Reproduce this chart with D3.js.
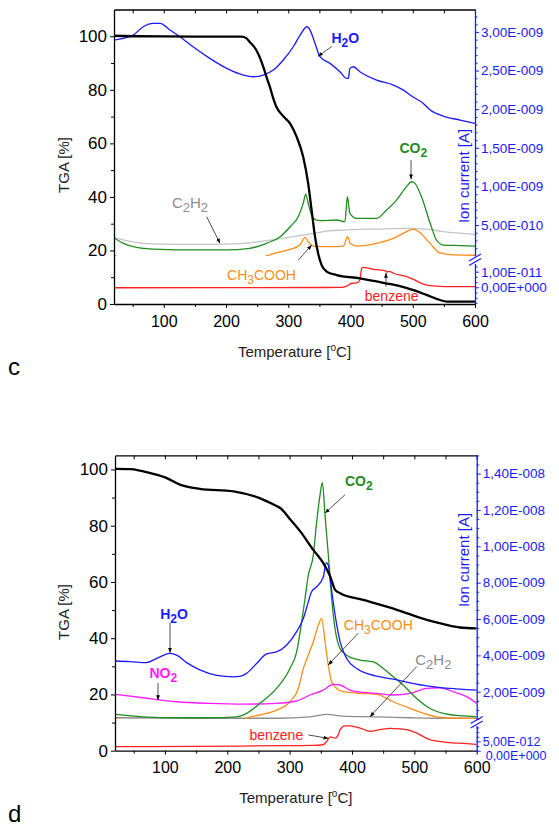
<!DOCTYPE html>
<html><head><meta charset="utf-8">
<script src="https://cdn.jsdelivr.net/npm/d3@7"></script>
<style>
body{margin:0;background:#fff}
svg{display:block}
text{font-family:"Liberation Sans",Arial,sans-serif}
</style>
</head><body>
<svg id="chart" width="559" height="830"></svg>
<script>
// ---------------- DATA ----------------
const tempTicks = [100, 200, 300, 400, 500, 600];
const tempMinor = [50, 150, 250, 350, 450, 550];
const tgaTicks = [0, 20, 40, 60, 80, 100];
const tgaMinor = [10, 30, 50, 70, 90];

// Panel c  — TGA in %, ion currents in nA (1e-9 A), benzene in pA (1e-12 A)
const cTGA = [[20,100.2],[60,100],[150,99.9],[225,99.9],[232,99.4],[238.5,97.8],[249,94.7],[260,88.5],[265,84.8],[270.6,81.0],[276,76.7],[281,73.6],[292,70.1],[303,67.4],[313.5,62.4],[324,54.9],[332,45.0],[337.5,35.1],[343,25.1],[348,18.9],[353.6,14.5],[361.6,12.1],[377.7,10.8],[415,9.6],[452.7,7.9],[479.5,6.7],[501,5.2],[522,3.4],[543.7,1.5],[554.4,0.9],[600,0.9]];
const cH2O = [[20,2.894],[35,2.916],[51,2.959],[67,3.067],[83,3.110],[94,3.110],[110,3.024],[126,2.937],[147,2.808],[174,2.657],[201,2.528],[228,2.442],[244,2.420],[260,2.442],[276,2.506],[292,2.636],[308,2.808],[319,2.959],[330,3.067],[335,3.024],[343,2.851],[351,2.679],[367,2.593],[383,2.485],[394,2.398],[396.5,2.40],[399,2.528],[404.5,2.549],[415,2.485],[442,2.377],[469,2.312],[485,2.247],[495.5,2.183],[517,2.075],[528,1.989],[549,1.911],[576,1.859],[600,1.816]];
const cCO2 = [[20,0.337],[35,0.264],[56,0.212],[94,0.186],[147,0.178],[201,0.178],[238,0.199],[265,0.264],[287,0.350],[303,0.479],[316,0.609],[324,0.781],[328,0.902],[332,0.781],[340,0.587],[351,0.557],[378,0.566],[391,0.544],[395,0.867],[399,0.652],[410,0.587],[442,0.587],[458,0.695],[474,0.824],[490,0.997],[498,1.061],[503.5,1.040],[514,0.867],[528,0.523],[538,0.307],[549,0.242],[576,0.235],[600,0.229]];
const cC2H2 = [[20,0.337],[40,0.298],[67,0.264],[121,0.251],[174,0.251],[228,0.264],[281,0.316],[335,0.385],[361.6,0.423],[388.4,0.436],[442,0.449],[495.5,0.458],[522,0.449],[549,0.415],[600,0.380]];
const cCH3COOH = [[20,0.12],[28,0.07],[60,0.02],[150,0.0],[240,0.03],[262,0.09],[270,0.115],[281,0.14],[302.7,0.186],[318.8,0.242],[326.8,0.342],[332.2,0.285],[340.2,0.229],[361.6,0.221],[388.4,0.229],[395.4,0.350],[399.2,0.264],[409.9,0.229],[442,0.264],[468.8,0.329],[490,0.415],[500.9,0.449],[511.6,0.402],[527.7,0.264],[543.7,0.14],[565,0.115],[600,0.11]];
const cBenzene = [[20,-0.3],[200,-0.2],[385,-0.1],[394,0.8],[402,2.6],[410,2.8],[415,4.7],[418,12.2],[421,12.8],[437,11.5],[447,11.1],[455,10.6],[458,9.8],[462,10.2],[469,9.0],[490,6.8],[501,5.1],[517,2.1],[538,0.8],[565,0.4],[600,0.4]];
const cIonMajor = [0.5, 1.0, 1.5, 2.0, 2.5, 3.0];
const cLowMajor = [0, 10];
const cLowMinor = [-10, -6.67, -3.33, 3.33, 6.67, 13.33];

// Panel d
const dTGA = [[20,100.2],[45,100.1],[60,99.6],[80,98.5],[103,96.9],[124,94.6],[156,93.1],[210,92.2],[252,89.8],[279,87],[285,86.3],[300,82.5],[317,78],[338,71.4],[354,66.7],[365,62],[373,57.2],[381,56.0],[418,53.6],[472,50.1],[520,46.5],[547,45.0],[573,43.8],[600,43.5]];
const dH2O = [[20,3.69],[44,3.66],[70,3.6],[87,3.83],[108,4.11],[119,4.01],[135,3.6],[156,3.2],[183,2.9],[210,2.82],[220,2.84],[231,3.01],[247,3.55],[263,4.08],[279,4.19],[295,4.56],[311,5.29],[322,6.03],[330,6.94],[335,7.49],[343,7.76],[354,8.31],[359,9.10],[362,8.96],[367,7.68],[373,6.21],[381,4.74],[391.5,3.83],[407.5,3.28],[429,2.95],[466,2.69],[493,2.49],[520,2.32],[546,2.21],[573,2.14],[600,2.09]];
const dCO2 = [[20,0.75],[65,0.62],[119,0.57],[172,0.57],[215,0.62],[231,0.81],[252.5,1.36],[279,2.18],[300.6,3.28],[311.3,4.19],[319.3,5.84],[324.7,7.13],[330,8.41],[338,9.51],[343.4,11.34],[348.7,12.80],[352.5,13.50],[356.8,11.70],[362.1,9.51],[367.4,7.13],[372.8,5.48],[380.8,4.38],[391.5,4.01],[412.9,3.74],[434.2,3.64],[450.3,3.28],[466.3,2.82],[482.3,2.36],[503.7,1.63],[525.1,1.08],[546.5,0.81],[573.2,0.68],[600,0.62]];
const dC2H2 = [[20,0.57],[172,0.54],[279,0.54],[333,0.62],[360,0.75],[386,0.66],[440,0.62],[493,0.57],[546,0.54],[600,0.54]];
const dNO2 = [[20,1.86],[65,1.67],[119,1.45],[172,1.36],[226,1.32],[279,1.36],[311,1.49],[332.7,1.82],[354,2.09],[370,2.40],[380.8,2.37],[396.8,2.09],[418.2,1.96],[439.6,1.91],[466.3,1.82],[493,1.91],[519.8,2.18],[541.1,2.22],[562.5,2.0],[583.9,1.73],[600,1.36]];
const dCH3COOH = [[20,0.57],[28,0.45],[60,0.3],[150,0.25],[220,0.3],[231,0.54],[252.5,0.72],[279,0.99],[300.6,1.45],[314,2.18],[322,3.28],[330,4.02],[338,4.75],[346,5.66],[351.4,6.03],[356.8,4.75],[362,3.47],[367.4,2.55],[375.5,2.18],[386,2.0],[413,1.91],[440,1.86],[466,1.45],[493,1.09],[520,0.76],[546.5,0.57],[573,0.54],[600,0.52]];
const dBenzene = [[20,2.2],[150,2.3],[285,2.7],[338,2.85],[353.5,3.2],[359.5,5.0],[365,7.4],[373,6.8],[378,8.6],[381,11.3],[389,13.3],[397,13.3],[413,12.2],[429,10.4],[445,11.3],[461,12.0],[477,11.7],[488,11.3],[504,9.5],[525,5.9],[552,4.5],[584,3.8],[600,3.4]];
const dIonMajor = [2, 4, 6, 8, 10, 12, 14];
const dLowMajor = [0, 5];
const dLowMinor = [2.5, 7.5, 10, 12.5];

// annotations: label position (°C, TGA %) and arrow from/to (°C, TGA %)
const cNotes = [
  {key:"H2O", at:[391.6,99.4], arrow:[369.8,96.2,347.8,92.5]},
  {key:"CO2", at:[500.9,58.2], arrow:[497.2,53.7,497.2,46.6]},
  {key:"C2H2", at:[142.1,37.7], arrow:[168.9,32.6,190.3,22.7]},
  {key:"CH3COOH", at:[257,10.8], arrow:[316.1,16.4,337.6,22.0]},
  {key:"benzene", at:[466.1,3.0], arrow:[457,6.5,457,11.6]}
];
const dNotes = [
  {key:"CO2", at:[411,95.7], arrow:[388.8,91.0,356.8,84.5]},
  {key:"H2O", at:[114.6,48.6], arrow:[108.2,45.4,108.2,34.8]},
  {key:"NO2", at:[97.5,27.7], arrow:[89,24.1,89,18.0]},
  {key:"CH3COOH", at:[442.2,44.7], arrow:[410.1,41.8,362,30.5]},
  {key:"C2H2", at:[530.4,32.3], arrow:[503.8,29.9,428.9,12.1]},
  {key:"benzene", at:[278.7,5.6], arrow:[330,5.6,362,4.4]}
];

// ---------------- STYLE / LAYOUT ----------------
const BLUE = "#1a1aff", GREEN = "#1e8c1e", ORANGE = "#ff8c1a", RED = "#ff2020",
      MAGENTA = "#ff1aff", GRAYC = "#c4c4c4", GRAYD = "#8c8c8c";

const labels = {
  H2O: {parts:[["H"],["2",1],["O"]], color:BLUE, bold:true, fs:14},
  CO2: {parts:[["CO"],["2",1]], color:GREEN, bold:true, fs:14},
  NO2: {parts:[["NO"],["2",1]], color:MAGENTA, bold:true, fs:14},
  C2H2: {parts:[["C"],["2",1],["H"],["2",1]], color:null, bold:false, fs:15},
  CH3COOH: {parts:[["CH"],["3",1],["COOH"]], color:ORANGE, bold:false, fs:14},
  benzene: {parts:[["benzene"]], color:RED, bold:false, fs:14}
};

const svg = d3.select("#chart");
svg.append("rect").attr("width",559).attr("height",830).attr("fill","#fff");
const defs = svg.append("defs");
defs.append("marker").attr("id","ah").attr("viewBox","0 0 10 10").attr("refX",10).attr("refY",5)
  .attr("markerWidth",6).attr("markerHeight",6).attr("orient","auto-start-reverse")
  .append("path").attr("d","M0,1 L10,5 L0,9 Z").attr("fill","#000");

function fmtE(v){
  if (Math.abs(v) < 1e-30) return "0,00E+000";
  let [m,e] = v.toExponential(2).split("e");
  const s = (+e < 0) ? "-" : "+";
  e = String(Math.abs(+e)).padStart(3,"0");
  return m.replace(".",",") + "E" + s + e;
}

function drawPanel(p){
  const g = svg.append("g");
  const x = d3.scaleLinear().domain([20,600]).range([p.x0,p.x1]);
  const yT = d3.scaleLinear().domain([0,p.tgaMax]).range([p.yBot,p.yTop]);
  const yU = d3.scaleLinear().domain(p.upDom).range(p.upRange);
  const yL = d3.scaleLinear().domain(p.loDom).range(p.loRange);

  const cid = "clip"+p.key;
  defs.append("clipPath").attr("id",cid+"u").append("rect")
    .attr("x",p.x0).attr("y",p.upRange[1]).attr("width",p.x1-p.x0).attr("height",p.upRange[0]-p.upRange[1]);
  defs.append("clipPath").attr("id",cid+"a").append("rect")
    .attr("x",p.x0).attr("y",p.yTop).attr("width",p.x1-p.x0).attr("height",p.yBot-p.yTop);

  const lineU = d3.line().x(d=>x(d[0])).y(d=>yU(d[1])).curve(d3.curveMonotoneX);
  const lineL = d3.line().x(d=>x(d[0])).y(d=>yL(d[1])).curve(d3.curveMonotoneX);
  const lineT = d3.line().x(d=>x(d[0])).y(d=>yT(d[1])).curve(d3.curveMonotoneX);

  const gU = g.append("g").attr("clip-path",`url(#${cid}u)`);
  p.upper.forEach(s=>{
    gU.append("path").datum(s.data).attr("d",lineU).attr("fill","none")
      .attr("stroke",s.color).attr("stroke-width",1.3).attr("stroke-linejoin","round");
  });
  const gA = g.append("g").attr("clip-path",`url(#${cid}a)`);
  gA.append("path").datum(p.benzene).attr("d",lineL).attr("fill","none")
    .attr("stroke",RED).attr("stroke-width",1.3);
  gA.append("path").datum(p.tga).attr("d",lineT).attr("fill","none")
    .attr("stroke","#000").attr("stroke-width",2.3).attr("stroke-linejoin","round");

  // axes
  const ax = g.append("g");
  const styleAxis = (sel, color, fs) => {
    sel.selectAll("path.domain").attr("stroke",color).attr("stroke-width",1.3);
    sel.selectAll(".tick line").attr("stroke",color).attr("stroke-width",1);
    sel.selectAll(".tick text").attr("fill",color).attr("font-size",fs)
      .attr("font-family","'Liberation Sans',Arial,sans-serif");
  };
  // bottom
  const gb = ax.append("g").attr("transform",`translate(0,${p.yBot})`)
    .call(d3.axisBottom(x).tickValues(tempTicks).tickSize(4).tickSizeOuter(0).tickPadding(p.bottomPad).tickFormat(d3.format("d")));
  styleAxis(gb,"#000",16);
  const gbm = ax.append("g").attr("transform",`translate(0,${p.yBot})`)
    .call(d3.axisBottom(x).tickValues(tempMinor).tickSize(3).tickFormat(""));
  gbm.select("path.domain").remove(); styleAxis(gbm,"#000",0);
  // top (inward ticks)
  const gt = ax.append("g").attr("transform",`translate(0,${p.yTop})`)
    .call(d3.axisBottom(x).tickValues(tempTicks.concat(tempMinor)).tickSize(4).tickSizeOuter(0).tickFormat(""));
  styleAxis(gt,"#000",0);
  // left
  const gl = ax.append("g").attr("transform",`translate(${p.x0},0)`)
    .call(d3.axisLeft(yT).tickValues(tgaTicks).tickSize(4).tickSizeOuter(0).tickPadding(3).tickFormat(d3.format("d")));
  styleAxis(gl,"#000",17);
  const glm = ax.append("g").attr("transform",`translate(${p.x0},0)`)
    .call(d3.axisLeft(yT).tickValues(tgaMinor).tickSize(3).tickFormat(""));
  glm.select("path.domain").remove(); styleAxis(glm,"#000",0);
  // right upper
  const gru = ax.append("g").attr("transform",`translate(${p.x1},0)`)
    .call(d3.axisRight(yU).tickValues(p.upMajor).tickSize(4).tickSizeOuter(0).tickPadding(2).tickFormat(d=>fmtE(d*1e-9)));
  styleAxis(gru,BLUE,13.5);
  const grum = ax.append("g").attr("transform",`translate(${p.x1},0)`)
    .call(d3.axisRight(yU).tickValues(p.upMinor).tickSize(2.5).tickFormat(""));
  grum.select("path.domain").remove(); styleAxis(grum,BLUE,0);
  // right lower
  const grl = ax.append("g").attr("transform",`translate(${p.x1},0)`)
    .call(d3.axisRight(yL).tickValues(p.loMajor).tickSize(4).tickSizeOuter(0).tickPadding(2).tickFormat(d=>fmtE(d*1e-12)));
  styleAxis(grl,BLUE,p.loFont);
  if (p.zeroShift) grl.selectAll(".tick text").filter(d=>d===0)
      .attr("transform",`translate(${p.zeroShift[0]},${p.zeroShift[1]})`);
  const grlm = ax.append("g").attr("transform",`translate(${p.x1},0)`)
    .call(d3.axisRight(yL).tickValues(p.loMinor).tickSize(2.5).tickFormat(""));
  grlm.select("path.domain").remove(); styleAxis(grlm,BLUE,0);
  // break marks
  const bm = (p.upRange[0]+p.loRange[1])/2;
  [-2.2, 2.2].forEach(o=>{
    ax.append("line").attr("x1",p.x1-6).attr("y1",bm+o+3.5).attr("x2",p.x1+6).attr("y2",bm+o-3.5)
      .attr("stroke",BLUE).attr("stroke-width",1.2);
  });

  // titles
  g.append("text").attr("transform",`translate(69,${p.tgaTitleY}) rotate(-90)`)
    .attr("text-anchor","middle").attr("font-size",15).attr("fill","#222").text("TGA [%]");
  g.append("text").attr("transform",`translate(469,${p.ionTitleY}) rotate(-90)`)
    .attr("text-anchor","middle").attr("font-size",15).attr("fill",BLUE).text("Ion current [A]");
  const tt = g.append("text").attr("x",(p.x0+p.x1)/2).attr("y",p.tempTitleY)
    .attr("text-anchor","middle").attr("font-size",15).attr("fill","#222");
  tt.append("tspan").text("Temperature [");
  tt.append("tspan").attr("font-size",10).attr("dy",-6).text("o");
  tt.append("tspan").attr("dy",6).text("C]");
  g.append("text").attr("x",8).attr("y",p.letterY).attr("font-family","'Liberation Serif','Times New Roman',serif")
    .attr("font-size",24).attr("fill","#000").text(p.key);

  // annotations
  p.notes.forEach(n=>{
    const L = labels[n.key];
    const col = L.color || p.grayText;
    const t = g.append("text").attr("x",x(n.at[0])).attr("y",yT(n.at[1])).attr("dy","0.35em")
      .attr("text-anchor","middle").attr("font-size",L.fs).attr("font-weight",L.bold?"bold":"normal")
      .attr("fill",col);
    let shifted = false;
    L.parts.forEach(pt=>{
      const ts = t.append("tspan").text(pt[0]);
      if (pt[1] && !shifted){ ts.attr("dy",4).attr("font-size",L.fs-2); shifted = true; }
      else if (pt[1] && shifted){ ts.attr("font-size",L.fs-2); }
      else if (!pt[1] && shifted){ ts.attr("dy",-4); shifted = false; }
    });
    g.append("line").attr("x1",x(n.arrow[0])).attr("y1",yT(n.arrow[1]))
      .attr("x2",x(n.arrow[2])).attr("y2",yT(n.arrow[3]))
      .attr("stroke","#222").attr("stroke-width",0.8).attr("marker-end","url(#ah)");
  });
}

drawPanel({
  key:"c", x0:114, x1:475, yTop:9.5, yBot:304, tgaMax:110, bottomPad:8, loFont:13.5,
  upDom:[0.1,3.29], upRange:[256,9.5], loDom:[-10.7,15.3], loRange:[304,263.4],
  upMajor:cIonMajor, upMinor:d3.range(2,33).map(i=>i/10).filter(v=>!cIonMajor.some(m=>Math.abs(m-v)<1e-6)),
  loMajor:cLowMajor, loMinor:cLowMinor,
  upper:[{data:cC2H2,color:GRAYC},{data:cCH3COOH,color:ORANGE},{data:cCO2,color:GREEN},{data:cH2O,color:BLUE}],
  benzene:cBenzene, tga:cTGA, notes:cNotes, grayText:"#8c8c8c",
  tgaTitleY:165, ionTitleY:176, tempTitleY:357, letterY:375
});
drawPanel({
  key:"d", x0:115, x1:476.7, yTop:455.4, yBot:750.7, tgaMax:105, bottomPad:7, loFont:12.5, zeroShift:[3,4.5],
  upDom:[0.5,15.0], upRange:[719,455.4], loDom:[0,13.5], loRange:[750.7,725.6],
  upMajor:dIonMajor, upMinor:d3.range(1,31).map(i=>i/2).filter(v=>!dIonMajor.some(m=>Math.abs(m-v)<1e-6)),
  loMajor:dLowMajor, loMinor:dLowMinor,
  upper:[{data:dC2H2,color:GRAYD},{data:dCH3COOH,color:ORANGE},{data:dNO2,color:MAGENTA},{data:dCO2,color:GREEN},{data:dH2O,color:BLUE}],
  benzene:dBenzene, tga:dTGA, notes:dNotes, grayText:"#8c8c8c",
  tgaTitleY:612, ionTitleY:560, tempTitleY:803, letterY:822
});
</script>
</body></html>
